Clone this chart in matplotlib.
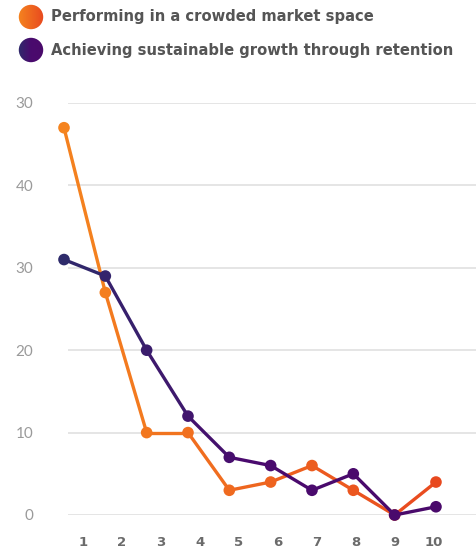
import matplotlib.pyplot as plt
import numpy as np
from matplotlib.collections import LineCollection
from matplotlib.colors import LinearSegmentedColormap
from matplotlib.patches import Circle

# survey data
rounds = ["1", "2", "3", "4", "5", "6", "7", "8", "9", "10"]
crowded = [47, 27, 10, 10, 3, 4, 6, 3, 0, 4]
retention = [31, 29, 20, 12, 7, 6, 3, 5, 0, 1]
y_ticks = [0, 10, 20, 30, 40, 50]
y_labels = ["0", "10", "20", "30", "40", "30"]
series_names = ["Performing in a crowded market space",
                "Achieving sustainable growth through retention"]

orange_cm = LinearSegmentedColormap.from_list("org", ["#f5841f", "#e8491f"])
purple_cm = LinearSegmentedColormap.from_list("pur", ["#2e2b6b", "#4a0a6e", "#4a0a6b"])

W, H = 476, 553
fig = plt.figure(figsize=(W / 100, H / 100), dpi=100)

# plot area: gridlines run from x=68px to the right edge
ax = fig.add_axes([68 / W, (H - 515) / H, (W - 68) / W, 412 / H])
unit = 41.33
x0 = (68 - 64) / unit
ax.set_xlim(x0, x0 + (W - 68) / unit)
ax.set_ylim(0, 50)

for v in y_ticks:
    ax.axhline(v, color="#e3e3e3", lw=1.3, zorder=0)
for s in ax.spines.values():
    s.set_visible(False)

ax.set_yticks(y_ticks)
ax.set_yticklabels(y_labels, family="Lato", fontsize=11, color="#9a9a9a")
ax.tick_params(axis="y", length=0, pad=25)

ax.set_xticks(np.linspace((83 - 64) / unit, (434 - 64) / unit, len(rounds)))
ax.set_xticklabels(rounds, family="DejaVu Sans", weight="bold", fontsize=9.5, color="#6b6b6b")
ax.tick_params(axis="x", length=0, pad=15)

xs = np.arange(len(rounds))


def gradient_line(vals, cmap, z):
    pts = np.column_stack([xs, vals])
    segs = np.stack([pts[:-1], pts[1:]], axis=1)
    t = (xs[:-1] + 0.5) / (len(xs) - 1)
    lc = LineCollection(segs, colors=cmap(t), linewidths=2.4, zorder=z,
                        capstyle="round", joinstyle="round", clip_on=False)
    ax.add_collection(lc)
    ax.scatter(xs, vals, s=70, c=cmap(xs / (len(xs) - 1)), zorder=z + 0.5,
               clip_on=False, linewidths=0)


gradient_line(crowded, orange_cm, 2)
gradient_line(retention, purple_cm, 3)

# legend with gradient dots
for i, (name, cm) in enumerate(zip(series_names, [orange_cm, purple_cm])):
    cy = 17 + 33 * i
    lax = fig.add_axes([18 / W, (H - cy - 13) / H, 26 / W, 26 / H])
    lax.set_axis_off()
    grad = np.linspace(0, 1, 64)[None, :] * np.ones((64, 1))
    im = lax.imshow(grad, cmap=cm, extent=[0, 1, 0, 1], origin="lower")
    circ = Circle((0.5, 0.5), 0.47, transform=lax.transData)
    im.set_clip_path(circ)
    lax.set_xlim(0, 1)
    lax.set_ylim(0, 1)
    fig.text(51 / W, 1 - cy / H, name, ha="left", va="center",
             family="DejaVu Sans", weight="bold", fontsize=10.6, color="#555555")

fig.savefig("out.png", dpi=100)
